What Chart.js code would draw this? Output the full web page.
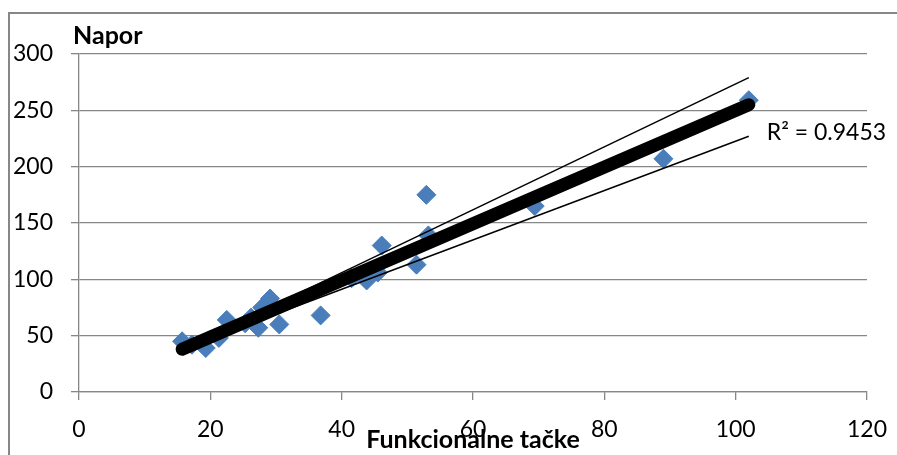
<!DOCTYPE html>
<html>
<head>
<meta charset="utf-8">
<script src="https://cdn.jsdelivr.net/npm/chart.js@4"></script>
<style>
  html, body { margin: 0; padding: 0; background: #fff; }
  #wrap { width: 897px; height: 455px; position: relative; }
</style>
</head>
<body>
<div id="wrap"><canvas id="napor"></canvas></div>
<script>
// data
const fpValues = [15.7, 17.2, 19.3, 21.3, 22.5, 25.3, 26.2, 27.3, 27.9, 29.1, 30.5, 36.8,
  41.5, 43.8, 45.5, 46.1, 51.4, 52.9, 53.2, 69.4, 89.0, 102.0];
const naporValues = [45, 42, 39, 48, 64, 61, 66, 57, 75, 83, 60, 68,
  101, 99, 106, 130, 113, 175, 139, 165, 207, 259];

// trend line and the two thin band lines (ends)
const trendX = [15.7, 102];
const trendY = [38, 255];
const upperY = [38, 279];
const lowerY = [38, 227];

const xTicks = [0, 20, 40, 60, 80, 100, 120];
const yTicks = [0, 50, 100, 150, 200, 250, 300];
const rSquared = 'R² = 0.9453';

const FONT = 'Lato, "Open Sans", sans-serif';
const GRID = '#878787';

const toPoints = (xs, ys) => xs.map((x, i) => ({x: x, y: ys[i]}));

// frame + titles + R2 label
const extras = {
  id: 'extras',
  beforeDraw(chart) {
    const ctx = chart.ctx;
    ctx.save();
    ctx.fillStyle = '#fff';
    ctx.fillRect(0, 0, chart.width, chart.height);
    ctx.strokeStyle = GRID;
    ctx.lineWidth = 2;
    ctx.beginPath();
    ctx.moveTo(9, chart.height);
    ctx.lineTo(9, 13);
    ctx.lineTo(chart.width, 13);
    ctx.stroke();
    ctx.restore();
  },
  afterDraw(chart) {
    const ctx = chart.ctx;
    const area = chart.chartArea;
    const xs = chart.scales.x, ys = chart.scales.y;
    ctx.save();
    ctx.fillStyle = '#000';
    ctx.textBaseline = 'alphabetic';
    ctx.font = 'bold 25px ' + FONT;
    ctx.textAlign = 'left';
    ctx.fillText('Napor', area.left - 6, area.top - 10);
    ctx.textAlign = 'center';
    ctx.fillText('Funkcionalne tačke', (area.left + area.right) / 2, area.bottom + 56);
    ctx.font = '23px ' + FONT;
    ctx.textAlign = 'left';
    const ex = xs.getPixelForValue(trendX[1]);
    const ey = ys.getPixelForValue(trendY[1]);
    ctx.fillText(rSquared, ex + 18, ey + 35);
    ctx.restore();
  }
};

const config = {
  type: 'scatter',
  data: {
    datasets: [
      {
        label: 'Napor',
        data: toPoints(fpValues, naporValues),
        pointStyle: 'rectRot',
        pointRadius: 9.5,
        backgroundColor: '#4a7ebb',
        borderColor: '#4a7ebb',
        borderWidth: 1,
        order: 3
      },
      {
        label: 'trend',
        data: toPoints(trendX, trendY),
        showLine: true,
        pointRadius: 0,
        borderColor: '#000',
        borderWidth: 13,
        borderCapStyle: 'round',
        order: 1
      },
      {
        label: 'upper',
        data: toPoints(trendX, upperY),
        showLine: true,
        pointRadius: 0,
        borderColor: '#000',
        borderWidth: 1.5,
        order: 2
      },
      {
        label: 'lower',
        data: toPoints(trendX, lowerY),
        showLine: true,
        pointRadius: 0,
        borderColor: '#000',
        borderWidth: 1.5,
        order: 2
      }
    ]
  },
  options: {
    responsive: false,
    animation: false,
    layout: { padding: { left: 0, right: 30, top: 54, bottom: 0 } },
    plugins: { legend: { display: false }, tooltip: { enabled: false } },
    scales: {
      x: {
        type: 'linear',
        min: 0, max: 120,
        afterBuildTicks: s => { s.ticks = xTicks.map(v => ({value: v})); },
        afterFit: s => { s.height = 63; s.paddingLeft = 0; s.paddingRight = 0; },
        ticks: { color: '#000', font: { family: FONT, size: 23 }, padding: 16, maxRotation: 0 },
        grid: { drawOnChartArea: false, drawTicks: true, tickLength: 8, color: GRID, lineWidth: 1.3 },
        border: { color: GRID, width: 1.3 }
      },
      y: {
        type: 'linear',
        min: 0, max: 300,
        afterBuildTicks: s => { s.ticks = yTicks.map(v => ({value: v})); },
        afterFit: s => { s.width = 79; },
        ticks: { color: '#000', font: { family: FONT, size: 23 }, padding: 18 },
        grid: { drawTicks: true, tickLength: 8, color: GRID, lineWidth: 1.3 },
        border: { color: GRID, width: 1.3 }
      }
    }
  },
  plugins: [extras]
};

const canvas = document.getElementById('napor');
canvas.width = 897;
canvas.height = 455;
const naporChart = new Chart(canvas, config);
</script>
</body>
</html>
